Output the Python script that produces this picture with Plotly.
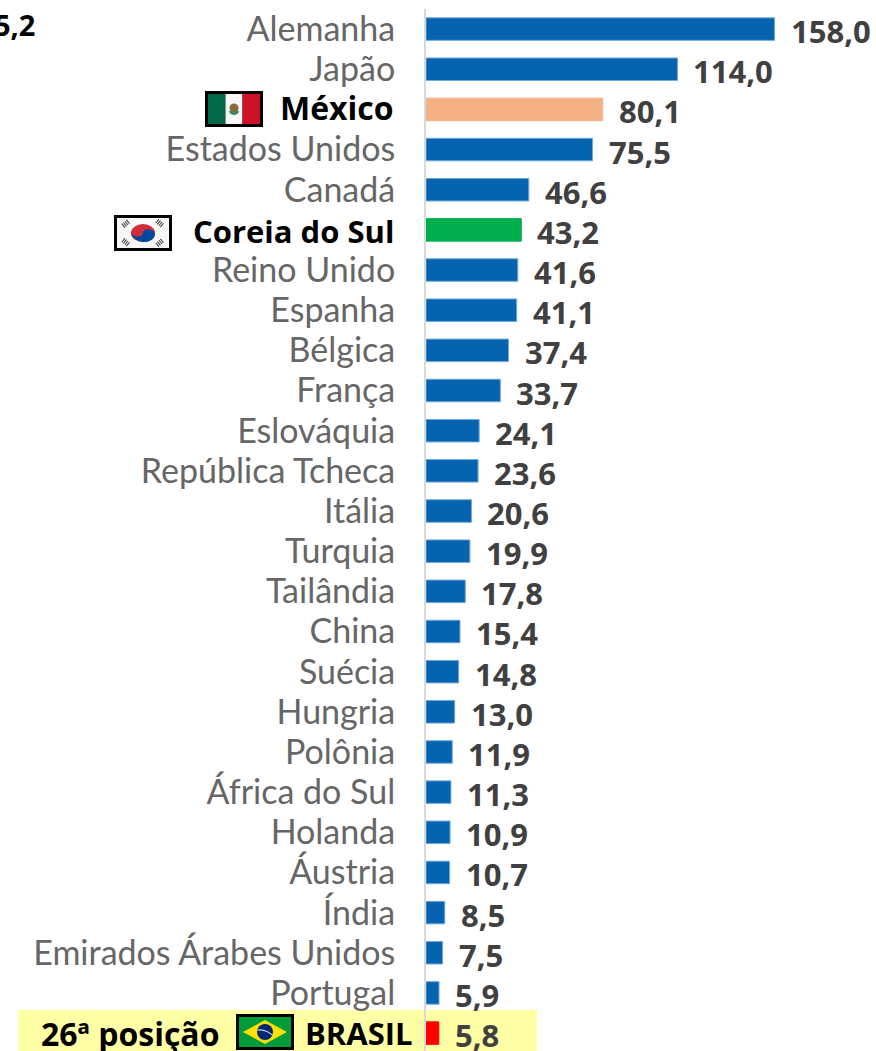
import base64
import plotly.graph_objects as go

countries = ["Alemanha", "Japão", "México", "Estados Unidos", "Canadá", "Coreia do Sul", "Reino Unido",
             "Espanha", "Bélgica", "França", "Eslováquia", "República Tcheca", "Itália", "Turquia",
             "Tailândia", "China", "Suécia", "Hungria", "Polônia", "África do Sul", "Holanda", "Áustria",
             "Índia", "Emirados Árabes Unidos", "Portugal", "BRASIL"]
values = [158.0, 114.0, 80.1, 75.5, 46.6, 43.2, 41.6, 41.1, 37.4, 33.7, 24.1, 23.6, 20.6, 19.9,
          17.8, 15.4, 14.8, 13.0, 11.9, 11.3, 10.9, 10.7, 8.5, 7.5, 5.9, 5.8]
highlight_colors = {"México": "#F4B183", "Coreia do Sul": "#00B050", "BRASIL": "#FF0000"}
default_color = "#0563AF"
bold_labels = ["México", "Coreia do Sul", "BRASIL"]
rank_note = "26ª posição"
cut_off_value = "5,2"

W, H = 876, 1051
AXIS_X = 426
TOP = 9
LABEL_FONT = "Lato"
BOLD_FONT = "Open Sans"


def uri(svg):
    return "data:image/svg+xml;base64," + base64.b64encode(svg.encode()).decode()


mexico = ('<svg xmlns="http://www.w3.org/2000/svg" viewBox="0 0 58 36">'
          '<rect width="58" height="36" fill="#000"/><rect x="3" y="3" width="17.5" height="30" fill="#006847"/>'
          '<rect x="20.5" y="3" width="17" height="30" fill="#f7f7f7"/><rect x="37.5" y="3" width="17.5" height="30" fill="#CE1126"/>'
          '<circle cx="29" cy="17" r="4.5" fill="#8a6a3a"/><path d="M24 20 a5 4 0 0 0 10 0" fill="#3c8a5a"/></svg>')
korea = ('<svg xmlns="http://www.w3.org/2000/svg" viewBox="0 0 58 36">'
         '<rect width="58" height="36" fill="#000"/><rect x="3" y="3" width="52" height="30" fill="#f7f7f7"/>'
         '<ellipse cx="29" cy="18" rx="12" ry="9" fill="#CD2E3A"/>'
         '<path d="M17 18 a12 9 0 0 0 24 0 a6 4.5 0 0 0 -12 0 a6 4.5 0 0 1 -12 0z" fill="#0047A0" transform="rotate(8 29 18)"/>'
         '<g stroke="#333" stroke-width="5" stroke-dasharray="1 1" fill="none">'
         '<path d="M9 11 L15 6"/><path d="M43 6 L49 11"/><path d="M9 25 L15 30"/><path d="M43 30 L49 25"/></g></svg>')
brazil = ('<svg xmlns="http://www.w3.org/2000/svg" viewBox="0 0 58 36">'
          '<rect width="58" height="36" fill="#000"/><rect x="3" y="3" width="52" height="30" fill="#009B3A"/>'
          '<path d="M7 18 L29 6 L51 18 L29 30z" fill="#FEDF00"/><circle cx="29" cy="18" r="8" fill="#002776"/>'
          '<path d="M21.5 16 Q29 15 36.5 21" stroke="#fff" stroke-width="1" fill="none"/></svg>')

colors = [highlight_colors.get(c, default_color) for c in countries]
fig = go.Figure(go.Bar(
    x=values, y=countries, orientation="h", width=0.56,
    marker=dict(color=colors, line=dict(color=["#6FA8DC" if c == default_color else c for c in colors], width=1)),
))

plot_w, plot_h = W - AXIS_X, H - TOP

annotations = []
for c, v in zip(countries, values):
    annotations.append(dict(x=v, y=c, xref="x", yref="y", text=f"<b>{v:.1f}</b>".replace(".", ","),
                            xanchor="left", yanchor="middle", xshift=14, yshift=-2, showarrow=False,
                            font=dict(family=BOLD_FONT, size=31, color="#404040")))
annotations.append(dict(x=0, y="México", xref="paper", yref="y", text="<b>México</b>", xanchor="right", yanchor="middle",
                        xshift=-30, yshift=2, showarrow=False, font=dict(family=BOLD_FONT, size=32, color="#000000")))
annotations.append(dict(x=0, y="Coreia do Sul", xref="paper", yref="y", text="<b>Coreia do Sul</b>", xanchor="right",
                        yanchor="middle", xshift=-30, yshift=-1, showarrow=False,
                        font=dict(family=BOLD_FONT, size=31, color="#000000")))
annotations.append(dict(x=0, y="BRASIL", xref="paper", yref="y", text="<b>BRASIL</b>", xanchor="right", yanchor="middle",
                        xshift=-11, showarrow=False, font=dict(family=BOLD_FONT, size=31, color="#000000")))
annotations.append(dict(x=0, y="BRASIL", xref="paper", yref="y", text=f"<b>{rank_note}</b>", xanchor="right", yanchor="middle",
                        xshift=-205, showarrow=False, font=dict(family=BOLD_FONT, size=32, color="#000000")))
annotations.append(dict(x=(37 - AXIS_X) / plot_w, y=(H - 25) / plot_h, xref="paper", yref="paper",
                        text=f"<b>{cut_off_value}</b>", xanchor="right", yanchor="middle", showarrow=False,
                        font=dict(family=BOLD_FONT, size=29, color="#000000")))


def flag(src, x0, y0, w=58, h=36):
    return dict(source=uri(src), xref="paper", yref="paper", x=(x0 - AXIS_X) / plot_w, y=(H - y0) / plot_h,
                sizex=w / plot_w, sizey=h / plot_h, xanchor="left", yanchor="top", sizing="stretch", layer="above")


fig.update_layout(
    width=W, height=H, margin=dict(l=AXIS_X, r=0, t=TOP, b=0, pad=0),
    paper_bgcolor="white", plot_bgcolor="white", showlegend=False,
    bargap=0.44,
    xaxis=dict(range=[0, (W - AXIS_X) / 2.206], visible=False, fixedrange=True),
    yaxis=dict(type="category", range=[25.446, -0.5], categoryorder="array", categoryarray=countries,
               tickmode="array", tickvals=countries,
               ticktext=["" if c in bold_labels else c for c in countries],
               tickfont=dict(family=LABEL_FONT, size=34, color="#666666"),
               ticks="", showgrid=False, zeroline=False, showline=True, linecolor="#D9D9D9", linewidth=2,
               ticklabelstandoff=22, automargin=False),
    annotations=annotations,
    images=[flag(mexico, 205, 91), flag(korea, 114, 215), flag(brazil, 236, 1014)],
    shapes=[dict(type="rect", xref="paper", yref="paper", x0=(18 - AXIS_X) / plot_w, x1=(537 - AXIS_X) / plot_w,
                 y0=0, y1=(H - 1010) / plot_h, fillcolor="#FFFFA6", line_width=0, layer="below")],
)
fig.write_html("out.html", config=dict(displayModeBar=False),
               post_script="document.body.style.margin='0';document.documentElement.style.overflow='hidden';")
